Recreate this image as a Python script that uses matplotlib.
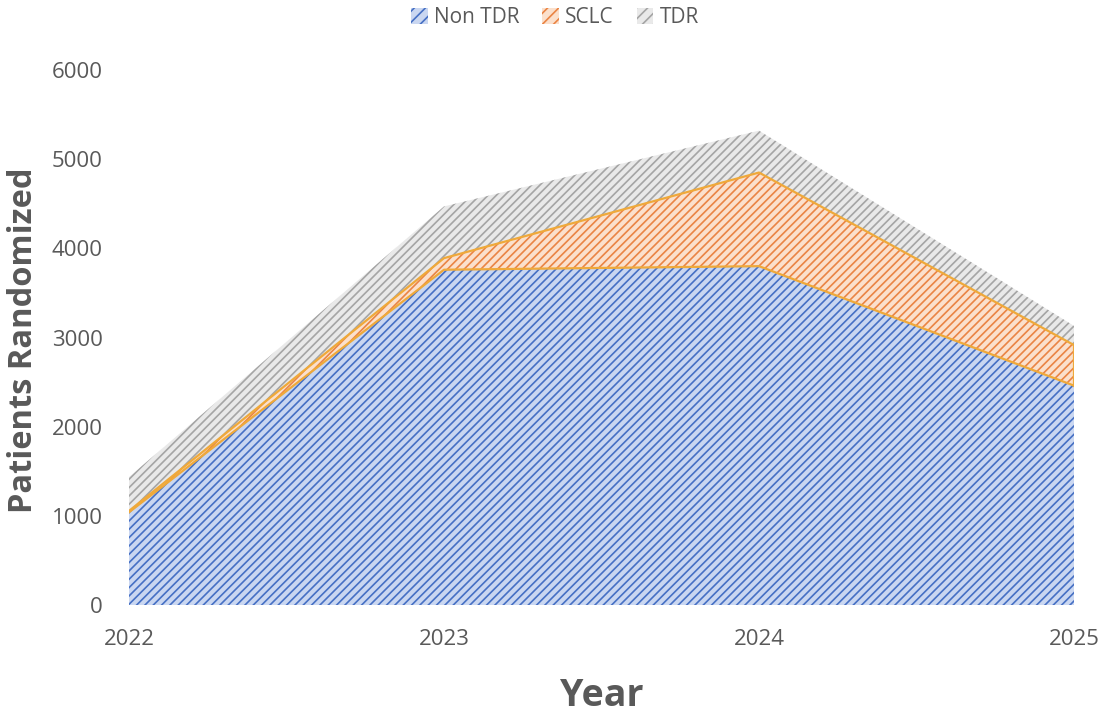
import matplotlib
matplotlib.use("Agg")
import matplotlib.pyplot as plt
from matplotlib.patches import Patch
from matplotlib import font_manager

years = [2022, 2023, 2024, 2025]
year_labels = ["2022", "2023", "2024", "2025"]
non_tdr = [1040, 3760, 3800, 2460]
sclc = [15, 130, 1050, 455]
tdr = [380, 580, 470, 215]
series_names = ["Non TDR", "SCLC", "TDR"]

available = {f.name for f in font_manager.fontManager.ttflist}
base_font = "Open Sans" if "Open Sans" in available else "DejaVu Sans"

plt.rcParams["font.family"] = [base_font, "DejaVu Sans"]
plt.rcParams["hatch.linewidth"] = 1.2

text_gray = "#595959"
fills = {
    "Non TDR": ("#cad7f1", "#4670c4"),
    "SCLC": ("#fbe0cc", "#ea8444"),
    "TDR": ("#e9e9e9", "#a5a5a5"),
}
hatch = "////"

fig = plt.figure(figsize=(11.10, 7.14), dpi=100)
ax = fig.add_axes([129 / 1110, 1 - 605 / 714, (1074 - 129) / 1110, (605 - 70) / 714])

lower = [0] * len(years)
bands = {}
for name, vals in zip(series_names, [non_tdr, sclc, tdr]):
    upper = [a + b for a, b in zip(lower, vals)]
    face, line = fills[name]
    ax.fill_between(years, lower, upper, facecolor=face, edgecolor=line,
                    hatch=hatch, linewidth=0, zorder=2)
    bands[name] = (list(lower), upper)
    lower = upper

# gold outline around the SCLC band
lo, hi = bands["SCLC"]
gold = "#efa93a"
ax.plot(years, lo, color=gold, lw=1.6, zorder=3)
ax.plot(years, hi, color=gold, lw=1.6, zorder=3)
ax.plot([years[-1], years[-1]], [lo[-1], hi[-1]], color=gold, lw=1.6, zorder=3)

ax.set_xlim(years[0], years[-1])
ax.set_ylim(0, 6000)
ax.set_yticks(range(0, 6001, 1000))
ax.set_xticks(years)
ax.set_xticklabels(year_labels)
for s in ax.spines.values():
    s.set_visible(False)
ax.tick_params(axis="both", length=0, colors=text_gray, labelsize=16)
ax.tick_params(axis="y", pad=19)
ax.tick_params(axis="x", pad=17)

ax.set_ylabel("Patients Randomized", fontsize=23.5, fontweight="bold", color=text_gray)
ax.yaxis.label.set_va("center")
ax.yaxis.set_label_coords(-0.112, 0.495)
ax.set_xlabel("Year", fontsize=27, fontweight="bold", color=text_gray, labelpad=20)

handles = [Patch(facecolor=fills[n][0], edgecolor=fills[n][1], hatch="///", linewidth=0)
           for n in series_names]
leg = fig.legend(handles, series_names, loc="upper center", bbox_to_anchor=(0.5, 1.016),
                 ncol=3, frameon=False, fontsize=15, handlelength=0.8, handleheight=0.8,
                 handletextpad=0.3, columnspacing=1.1)
for t in leg.get_texts():
    t.set_color(text_gray)

fig.savefig("out.png", dpi=100)
